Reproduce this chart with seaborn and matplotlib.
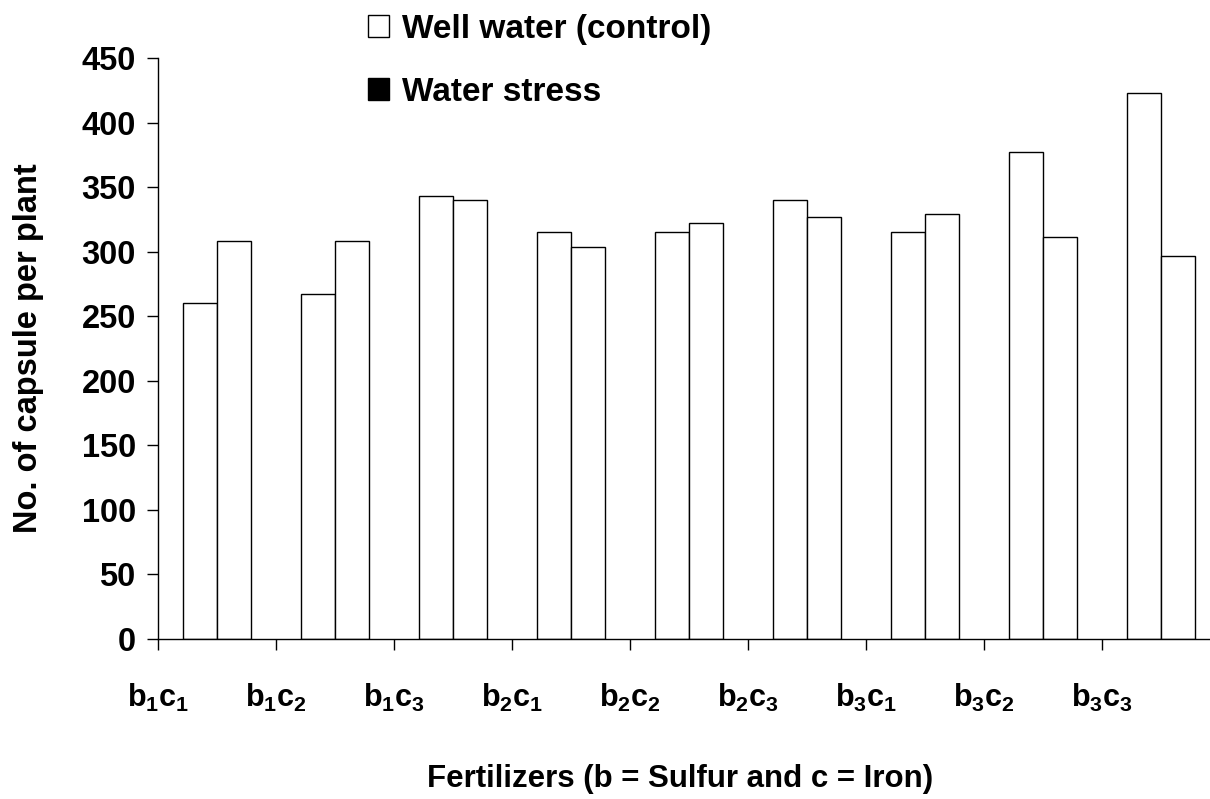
import seaborn as sns
import pandas as pd
import matplotlib.pyplot as plt
from matplotlib.patches import Patch

treatments = ["b1c1", "b1c2", "b1c3", "b2c1", "b2c2", "b2c3", "b3c1", "b3c2", "b3c3"]
tick_labels = [r"$\mathbf{b_1c_1}$", r"$\mathbf{b_1c_2}$", r"$\mathbf{b_1c_3}$",
               r"$\mathbf{b_2c_1}$", r"$\mathbf{b_2c_2}$", r"$\mathbf{b_2c_3}$",
               r"$\mathbf{b_3c_1}$", r"$\mathbf{b_3c_2}$", r"$\mathbf{b_3c_3}$"]
well_water = [260, 267, 343, 315, 315, 340, 315, 377, 423]
water_stress = [308, 308, 340, 304, 322, 327, 329, 311, 297]
series = ["Well water (control)", "Water stress"]

df = pd.DataFrame({
    "treatment": treatments * 2,
    "capsules": well_water + water_stress,
    "irrigation": [series[0]] * 9 + [series[1]] * 9,
})

sns.set_style("white")
plt.rcParams["font.family"] = ["Liberation Sans", "DejaVu Sans"]
plt.rcParams["font.weight"] = "bold"
plt.rcParams["text.color"] = "black"
plt.rcParams["axes.labelcolor"] = "black"
plt.rcParams["xtick.color"] = "black"
plt.rcParams["ytick.color"] = "black"
plt.rcParams["mathtext.fontset"] = "custom"
plt.rcParams["mathtext.rm"] = "Liberation Sans"
plt.rcParams["mathtext.bf"] = "Liberation Sans:bold"

fig = plt.figure(figsize=(12.1, 7.99), dpi=100)
ax = fig.add_axes([158 / 1210, 1 - 639 / 799, 1062 / 1210, 581 / 799])

sns.barplot(data=df, x="treatment", y="capsules", hue="irrigation",
            palette=["white", "white"], edgecolor="black", linewidth=1.0,
            width=0.58, legend=False, ax=ax)

ax.set_ylim(0, 450)
ax.set_xlim(-0.5, 8.5)
ax.set_yticks(range(0, 451, 50))
ax.set_xticks([i - 0.5 for i in range(9)])
ax.set_xticklabels(tick_labels)
ax.tick_params(axis="y", labelsize=23.5, length=8, width=1, pad=8, direction="out", left=True)
ax.tick_params(axis="x", labelsize=22, length=8, width=1, pad=23, direction="out", bottom=True)
for lab in ax.get_yticklabels():
    lab.set_fontweight("bold")

sns.despine(ax=ax)
ax.spines["left"].set_linewidth(1)
ax.spines["bottom"].set_linewidth(1)
ax.spines["left"].set_color("black")
ax.spines["bottom"].set_color("black")

ax.set_ylabel("No. of capsule per plant", fontsize=23.5, fontweight="bold")
ax.yaxis.set_label_coords(-0.107, 0.5)
ax.set_xlabel("Fertilizers (b = Sulfur and c = Iron)", fontsize=22.5, fontweight="bold")
ax.xaxis.set_label_coords(0.492, -0.215)

handles = [Patch(facecolor="white", edgecolor="black", linewidth=1),
           Patch(facecolor="black", edgecolor="black", linewidth=1)]
ax.legend(handles, series, loc="upper left", bbox_to_anchor=(368 / 1210, 1 - 14 / 799),
          bbox_transform=fig.transFigure, frameon=False,
          handlelength=0.63, handleheight=0.63, handletextpad=0.39,
          labelspacing=0.95, borderpad=0, borderaxespad=0,
          prop={"weight": "bold", "size": 24})

fig.savefig("out.png", dpi=100)
